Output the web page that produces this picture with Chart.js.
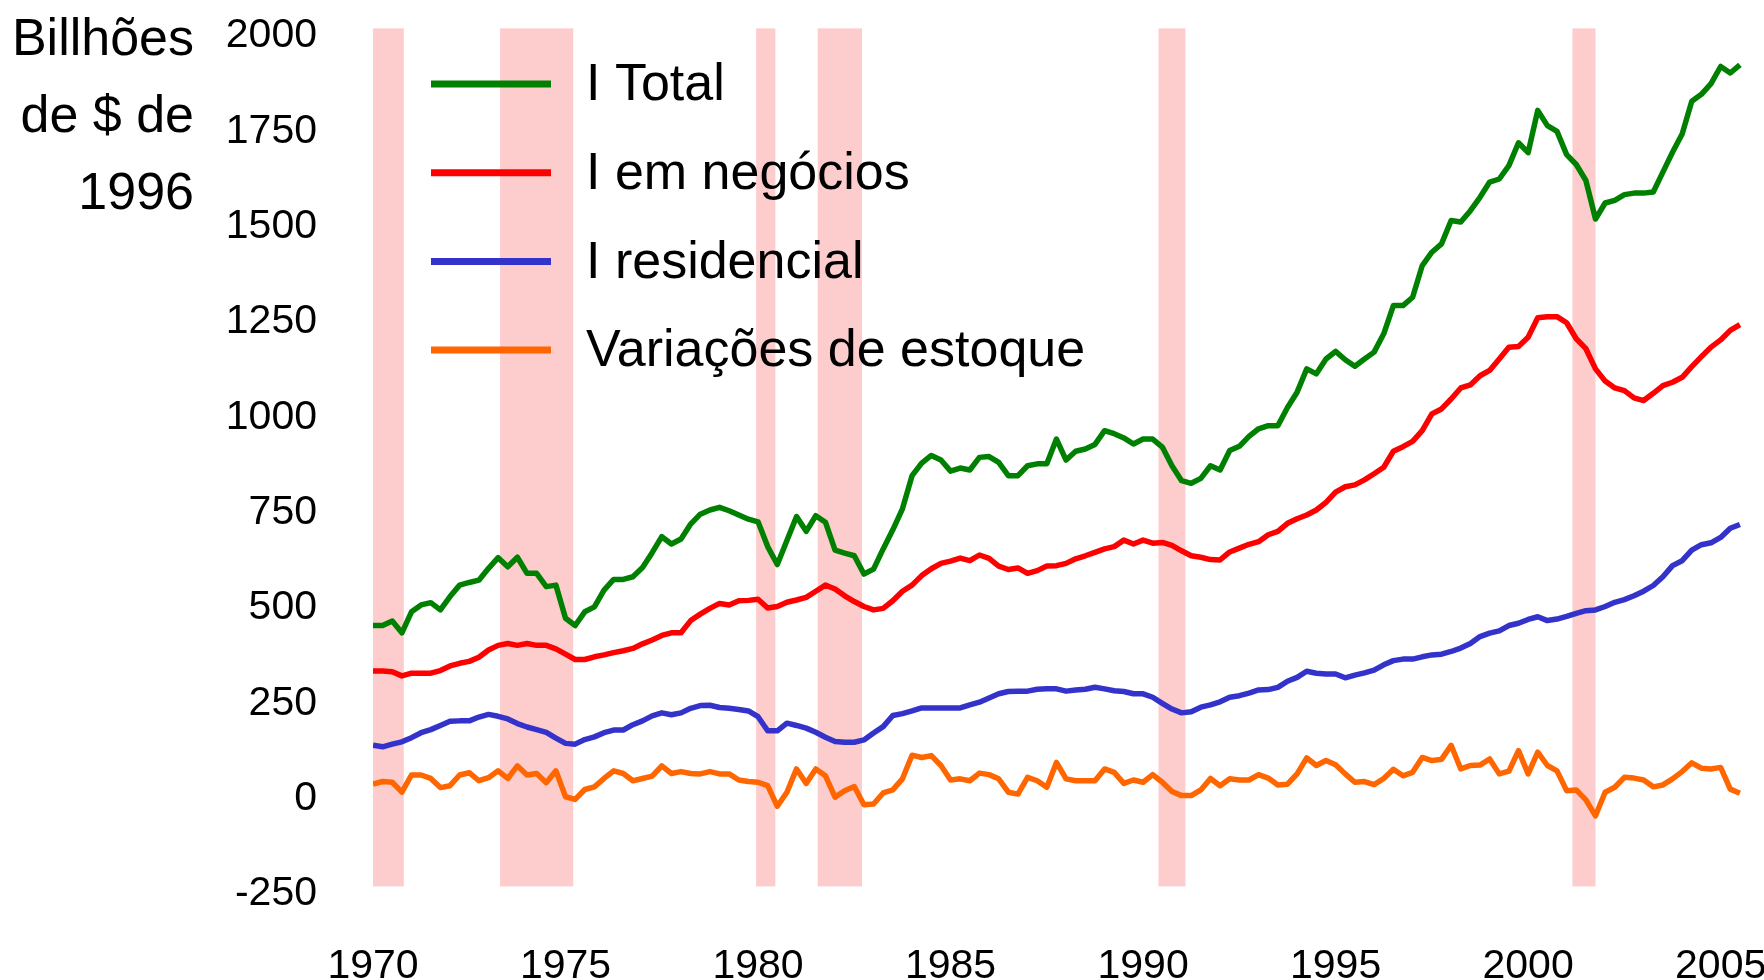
<!DOCTYPE html>
<html lang="pt-BR">
<head>
<meta charset="UTF-8">
<title>Investimento nos EUA</title>
<script src="https://cdn.jsdelivr.net/npm/chart.js"></script>
<style>
  body { margin: 0; background: #fff; }
  #wrap { width: 1764px; height: 980px; position: relative; }
</style>
</head>
<body>
<div id="wrap"><canvas id="chart"></canvas></div>
<script>
// dados trimestrais, 1970T1 .. 2005T3, bilhões de $ de 1996
const startYear = 1970;
const seriesNames = ['I Total', 'I em negócios', 'I residencial', 'Variações de estoque'];
const seriesColors = ['#008000', '#ff0000', '#3333cc', '#ff6600'];

const totalI = [
  454, 454, 466, 435, 490, 508, 514, 495, 530, 560,
  567, 573, 604, 632, 608, 633, 591, 591, 556, 560,
  473, 454, 490, 503, 547, 575, 575, 582, 606, 645,
  687, 668, 681, 720, 746, 757, 764, 755, 744, 733,
  726, 661, 614, 677, 740, 701, 742, 725, 652, 644,
  637, 589, 602, 655, 705, 760, 847, 880, 900, 888,
  859, 867, 862, 895, 897, 882, 847, 847, 873, 878,
  878, 943, 888, 911, 917, 929, 965, 957, 946, 930,
  943, 943, 922, 873, 834, 827, 840, 873, 862, 913,
  924, 950, 970, 978, 978, 1026, 1066, 1127, 1114, 1153,
  1173, 1151, 1134, 1153, 1171, 1219, 1293, 1293, 1315, 1398,
  1433, 1455, 1516, 1512, 1542, 1577, 1617, 1625, 1660, 1720,
  1694, 1805, 1765, 1750, 1689, 1663, 1621, 1520, 1562, 1569,
  1584, 1588, 1588, 1591, 1643, 1695, 1743, 1829, 1847, 1875,
  1920, 1903, 1924
];
const businessI = [
  335, 335, 333, 322, 329, 329, 329, 336, 348, 355,
  360, 371, 390, 402, 407, 402, 407, 402, 402, 393,
  379, 365, 365, 372, 377, 383, 388, 394, 406, 416,
  428, 435, 435, 467, 484, 499, 512, 508, 519, 520,
  523, 500, 504, 515, 521, 528, 544, 560, 550, 532,
  517, 504, 495, 499, 519, 544, 560, 585, 603, 617,
  623, 631, 624, 639, 630, 610, 601, 605, 591, 598,
  610, 611, 617, 629, 637, 646, 655, 661, 678, 668,
  678, 670, 672, 664, 650, 637, 633, 627, 626, 647,
  657, 667, 674, 692, 701, 722, 734, 744, 757, 777,
  804, 818, 823, 836, 852, 869, 911, 923, 937, 965,
  1009, 1022, 1048, 1077, 1085, 1109, 1123, 1153, 1184, 1186,
  1210, 1261, 1264, 1264, 1248, 1206, 1180, 1127, 1095, 1077,
  1070, 1051, 1044, 1063, 1083, 1092, 1105, 1133, 1159, 1184,
  1203, 1228, 1243
];
const residentialI = [
  140, 136, 143, 149, 160, 173, 181, 192, 203, 204,
  204, 214, 221, 216, 209, 197, 188, 181, 174, 159,
  145, 143, 155, 162, 173, 180, 180, 194, 204, 217,
  225, 220, 225, 237, 244, 245, 239, 237, 234, 230,
  215, 178, 178, 198, 192, 185, 174, 161, 150, 148,
  148, 154, 172, 189, 218, 223, 230, 238, 238, 238,
  238, 238, 246, 253, 264, 275, 281, 282, 282, 287,
  288, 288, 282, 285, 287, 292, 288, 283, 281, 275,
  275, 266, 250, 235, 225, 228, 240, 246, 254, 266,
  270, 277, 285, 286, 292, 308, 318, 334, 329, 327,
  327, 317, 324, 330, 337, 351, 362, 366, 366, 372,
  377, 379, 386, 395, 407, 425, 434, 440, 454, 460,
  470, 477, 467, 471, 478, 486, 493, 495, 504, 515,
  522, 532, 544, 559, 582, 611, 624, 652, 666, 671,
  685, 709, 719
];
const inventoryChange = [
  38, 45, 43, 17, 62, 62, 53, 29, 34, 62,
  68, 47, 55, 73, 53, 86, 62, 66, 42, 73,
  5, -2, 24, 31, 53, 73, 66, 47, 53, 59,
  86, 66, 71, 66, 65, 71, 65, 65, 49, 45,
  43, 34, -20, 17, 78, 40, 78, 60, 4, 21,
  32, -16, -14, 15, 23, 52, 114, 108, 113, 87,
  49, 52, 47, 67, 63, 52, 17, 12, 56, 47,
  30, 95, 52, 47, 47, 47, 78, 69, 40, 49,
  43, 63, 43, 19, 8, 8, 23, 53, 34, 52,
  49, 49, 63, 54, 36, 38, 65, 107, 87, 100,
  89, 65, 43, 45, 37, 53, 77, 60, 69, 108,
  100, 103, 140, 78, 87, 88, 104, 65, 72, 126,
  65, 122, 87, 73, 21, 23, -3, -45, 17, 30,
  56, 54, 49, 31, 36, 52, 71, 94, 80, 78,
  82, 25, 14
];

// recessões (início, fim em anos)
const recessions = [
  [1970.0, 1970.8], [1973.3, 1975.2], [1979.95, 1980.45],
  [1981.55, 1982.7], [1990.4, 1991.1], [2001.15, 2001.75]
];
const bandTop = 2020, bandBottom = -230;

const xTickYears = [1970, 1975, 1980, 1985, 1990, 1995, 2000, 2005];
const yTickValues = [-250, 0, 250, 500, 750, 1000, 1250, 1500, 1750, 2000];
const yTitleLines = ['Billhões', 'de $ de', '1996'];

const FONT = '"Liberation Sans", Arial, sans-serif';

function toPoints(values) {
  return values.map((v, i) => ({ x: startYear + i / 4, y: v }));
}

const allSeries = [totalI, businessI, residentialI, inventoryChange];

const bandsPlugin = {
  id: 'recessionBands',
  beforeDatasetsDraw(chart) {
    const { ctx, scales: { x, y } } = chart;
    const top = y.getPixelForValue(bandTop);
    const bottom = y.getPixelForValue(bandBottom);
    ctx.save();
    ctx.fillStyle = '#fdcdcd';
    recessions.forEach(([a, b]) => {
      const x0 = x.getPixelForValue(a);
      const x1 = x.getPixelForValue(b);
      ctx.fillRect(x0, top, x1 - x0, bottom - top);
    });
    ctx.restore();
  }
};

// legenda dentro do gráfico + título do eixo y
const textPlugin = {
  id: 'insideText',
  afterDraw(chart) {
    const { ctx, chartArea } = chart;
    ctx.save();
    ctx.font = '52px ' + FONT;
    ctx.textBaseline = 'middle';
    chart.data.datasets.forEach((ds, i) => {
      const yy = chartArea.top + 48 + i * 88.7;
      ctx.strokeStyle = ds.borderColor;
      ctx.lineWidth = 7;
      ctx.beginPath();
      ctx.moveTo(chartArea.left + 58, yy);
      ctx.lineTo(chartArea.left + 178, yy);
      ctx.stroke();
      ctx.fillStyle = '#000';
      ctx.textAlign = 'left';
      ctx.fillText(ds.label, chartArea.left + 213, yy + 2);
    });

    ctx.textBaseline = 'alphabetic';
    ctx.textAlign = 'right';
    yTitleLines.forEach((line, i) => {
      ctx.fillText(line, 194, 55 + i * 77);
    });
    ctx.restore();
  }
};

new Chart(document.getElementById('chart'), {
  type: 'line',
  data: {
    datasets: allSeries.map((vals, i) => ({
      label: seriesNames[i],
      data: toPoints(vals),
      borderColor: seriesColors[i],
      backgroundColor: seriesColors[i],
      borderWidth: 5.5,
      borderJoinStyle: 'round',
      pointRadius: 0,
      tension: 0,
      fill: false
    }))
  },
  options: {
    responsive: true,
    maintainAspectRatio: false,
    animation: false,
    layout: { padding: { top: 36, right: 1, left: 0, bottom: 0 } },
    plugins: {
      legend: { display: false },
      tooltip: { enabled: false }
    },
    scales: {
      x: {
        type: 'linear',
        min: 1970,
        max: 2006.1,
        grid: { display: false },
        border: { display: false },
        afterBuildTicks: (scale) => { scale.ticks = xTickYears.map(v => ({ value: v })); },
        afterFit: (scale) => {
          scale.height = 86;
          scale.paddingLeft = 0;
          scale.paddingRight = 0;
        },
        ticks: {
          autoSkip: false,
          maxRotation: 0,
          padding: 40,
          color: '#000',
          font: { family: FONT, size: 41 },
          callback: (v) => String(v)
        }
      },
      y: {
        min: -250,
        max: 2000,
        grid: { display: false },
        border: { display: false },
        afterBuildTicks: (scale) => { scale.ticks = yTickValues.map(v => ({ value: v })); },
        afterFit: (scale) => {
          scale.width = 373;
          scale.paddingTop = 0;
          scale.paddingBottom = 0;
        },
        ticks: {
          padding: 48,
          color: '#000',
          font: { family: FONT, size: 41 },
          callback: (v) => String(v)
        }
      }
    }
  },
  plugins: [bandsPlugin, textPlugin]
});
</script>
</body>
</html>
